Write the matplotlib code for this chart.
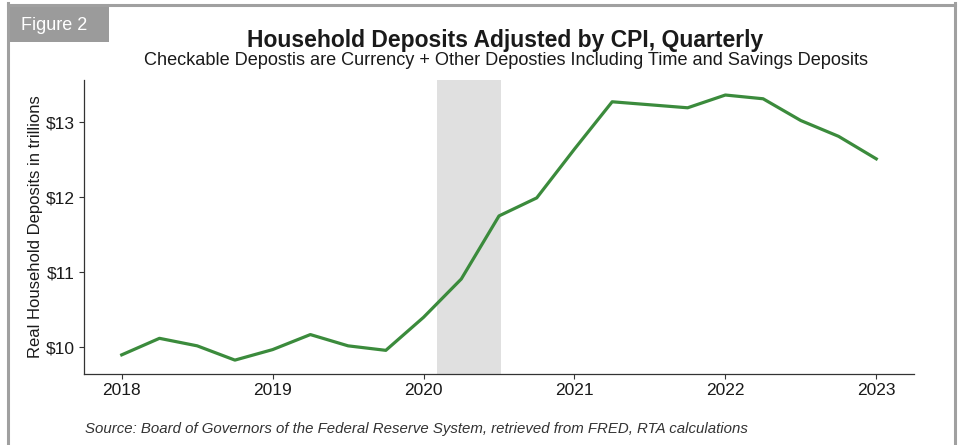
import matplotlib
matplotlib.use("Agg")
import matplotlib.pyplot as plt
from matplotlib.patches import Rectangle
from matplotlib.lines import Line2D

plt.rcParams['font.family'] = ['Liberation Sans', 'DejaVu Sans']

# quarterly data (decimal year of quarter start), real deposits in $ trillions
quarters = [2018.0, 2018.25, 2018.5, 2018.75,
            2019.0, 2019.25, 2019.5, 2019.75,
            2020.0, 2020.25, 2020.5, 2020.75,
            2021.0, 2021.25, 2021.5, 2021.75,
            2022.0, 2022.25, 2022.5, 2022.75,
            2023.0]
deposits = [9.90, 10.12, 10.02, 9.83,
            9.97, 10.17, 10.02, 9.96,
            10.40, 10.91, 11.75, 11.99,
            12.64, 13.27, 13.23, 13.19,
            13.36, 13.31, 13.02, 12.81,
            12.51]

recession = [2020.09, 2020.51]
year_ticks = [2018, 2019, 2020, 2021, 2022, 2023]
dollar_ticks = [10, 11, 12, 13]

W, H = 961, 445
fig = plt.figure(figsize=(W / 100, H / 100), dpi=100)

def fx(px):
    return px / W

def fy(py):
    return 1 - py / H

# outer frame + "Figure 2" tab
frame_col = '#a0a0a0'
fig.add_artist(Line2D([fx(8), fx(8)], [fy(3), 0], color=frame_col, lw=2.2))
fig.add_artist(Line2D([fx(8), fx(955)], [fy(4.5), fy(4.5)], color=frame_col, lw=2.2))
fig.add_artist(Line2D([fx(955), fx(955)], [fy(3), 0], color=frame_col, lw=2.2))
fig.add_artist(Rectangle((fx(8), fy(42)), fx(101), (42 - 4) / H, color='#9b9b9b', lw=0))
fig.text(fx(21), fy(30), "Figure 2", color='white', fontsize=13, va='baseline', ha='left')

ax = fig.add_axes([fx(84), fy(374), fx(914 - 84), (374 - 80) / H])

ax.axvspan(recession[0], recession[1], color='#e0e0e0', lw=0, zorder=1)
ax.plot(quarters, deposits, color='#3b8b3c', lw=2.3, zorder=3, solid_joinstyle='round')

ax.set_xlim(2017.75, 2023.25)
ax.set_ylim(9.645, 13.56)
ax.set_xticks(year_ticks)
ax.set_xticklabels([str(y) for y in year_ticks])
ax.set_yticks(dollar_ticks)
ax.set_yticklabels([f"${v}" for v in dollar_ticks])

for s in ['top', 'right']:
    ax.spines[s].set_visible(False)
for s in ['left', 'bottom']:
    ax.spines[s].set_color('#333333')
    ax.spines[s].set_linewidth(0.9)
ax.tick_params(axis='both', colors='#333333', labelcolor='#1a1a1a', labelsize=12.5,
               length=3.5, width=0.8, pad=3)

ax.set_ylabel("Real Household Deposits in trillions", fontsize=12, color='#1a1a1a')
ax.yaxis.set_label_coords((43 - 84) / (914 - 84), 0.5)

fig.text(fx(505), fy(47), "Household Deposits Adjusted by CPI, Quarterly",
         fontsize=16.5, fontweight='bold', ha='center', va='baseline', color='#1a1a1a')
fig.text(fx(506), fy(65),
         "Checkable Depostis are Currency + Other Deposties Including Time and Savings Deposits",
         fontsize=13.1, ha='center', va='baseline', color='#1a1a1a')
fig.text(fx(85), fy(433), "Source: Board of Governors of the Federal Reserve System, "
         "retrieved from FRED, RTA calculations",
         fontsize=10.8, style='italic', ha='left', va='baseline', color='#333333')

fig.savefig("out.png", dpi=100)
